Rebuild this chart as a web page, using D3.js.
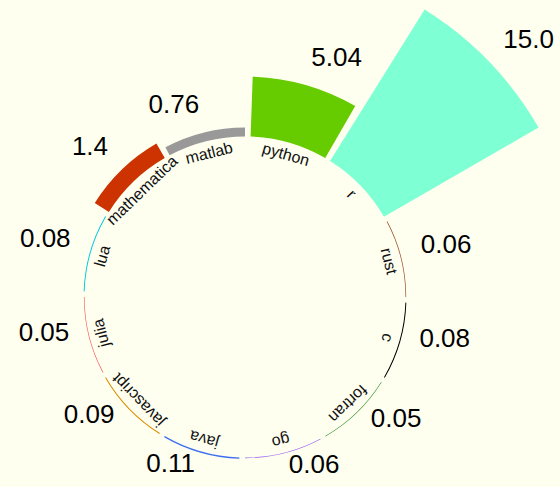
<!DOCTYPE html>
<html>
<head>
<meta charset="utf-8">
<script src="https://cdn.jsdelivr.net/npm/d3@7"></script>
<style>
  body { margin: 0; background: #fffff0; }
  svg { display: block; }
  text { font-family: "Liberation Sans", Arial, Helvetica, sans-serif; }
</style>
</head>
<body>
<svg id="chart" width="560" height="487"></svg>
<script>
// languages, clockwise from the top
var languages = ["python", "r", "rust", "c", "fortran", "go", "java", "javascript", "julia", "lua", "mathematica", "matlab"];
var values = [5.04, 15.0, 0.06, 0.08, 0.05, 0.06, 0.11, 0.09, 0.05, 0.08, 1.4, 0.76];
var valueLabels = ["5.04", "15.0", "0.06", "0.08", "0.05", "0.06", "0.11", "0.09", "0.05", "0.08", "1.4", "0.76"];
var colors = ["#66cc00", "#7fffd4", "#a0522d", "#000000", "#228b22", "#9b59f0", "#3d6ff0", "#d98c00", "#ff4d4d", "#00c8e0", "#cc3300", "#999999"];

var width = 560, height = 487;
var cx = 245, cy = 297;
var innerRadius = 160.5;

var data = languages.map(function(l, i) {
  return { lang: l, value: values[i], label: valueLabels[i], color: colors[i] };
});

var svg = d3.select("#chart");
var g = svg.append("g").attr("transform", "translate(" + cx + "," + cy + ")");

var x = d3.scaleBand()
    .domain(languages)
    .range([0, 2 * Math.PI])
    .paddingInner(1 / 15)
    .paddingOuter(1 / 30)
    .align(1);

var y = d3.scaleLinear()
    .domain([0, 15])
    .range([innerRadius, 339]);

var arc = d3.arc()
    .innerRadius(innerRadius)
    .outerRadius(function(d) { return y(d.value); })
    .startAngle(function(d) { return x(d.lang); })
    .endAngle(function(d) { return x(d.lang) + x.bandwidth(); });

function mid(d) { return x(d.lang) + x.bandwidth() / 2; }

//draws bars
g.selectAll(".bar")
    .data(data)
    .enter().append("path")
    .attr("class", "bar")
    .attr("fill", function(d) { return d.color; })
    .attr("d", arc);

//language names inside the circle
g.selectAll(".lang")
    .data(data)
    .enter().append("text")
    .attr("class", "lang")
    .attr("text-anchor", "middle")
    .attr("font-size", 16)
    .attr("fill", "#111")
    .attr("transform", function(d) {
      return "rotate(" + (mid(d) * 180 / Math.PI) + ")translate(0," + (-143) + ")";
    })
    .text(function(d) { return d.lang; });

//values outside the bars
g.selectAll(".val")
    .data(data)
    .enter().append("text")
    .attr("class", "val")
    .attr("font-size", 26)
    .attr("fill", "#000")
    .attr("text-anchor", function(d) { return mid(d) < Math.PI ? "start" : "end"; })
    .attr("x", function(d) { return (y(d.value) + 20) * Math.sin(mid(d)); })
    .attr("y", function(d) { return -(y(d.value) + 20) * Math.cos(mid(d)); })
    .text(function(d) { return d.label; });
</script>
</body>
</html>
